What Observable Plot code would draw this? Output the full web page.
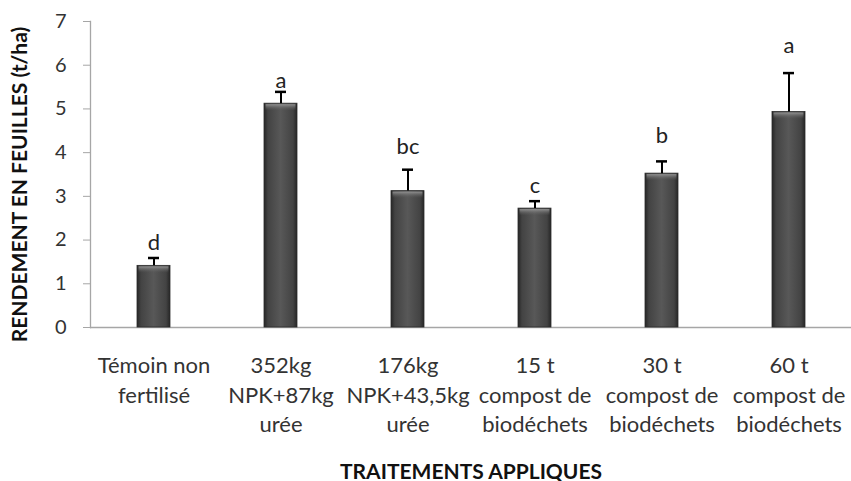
<!DOCTYPE html>
<html>
<head>
<meta charset="utf-8">
<script src="https://cdn.jsdelivr.net/npm/d3@7"></script>
<script src="https://cdn.jsdelivr.net/npm/@observablehq/plot@0.6"></script>
<style>
  html, body { margin: 0; padding: 0; background: #fff; }
  #chart { width: 851px; height: 481px; }
</style>
</head>
<body>
<div id="chart"></div>
<script>
const treatments = [
  "Témoin non\nfertilisé",
  "352kg\nNPK+87kg\nurée",
  "176kg\nNPK+43,5kg\nurée",
  "15 t\ncompost de\nbiodéchets",
  "30 t\ncompost de\nbiodéchets",
  "60 t\ncompost de\nbiodéchets"
];
const yields = [1.41, 5.12, 3.12, 2.72, 3.52, 4.93];
const errors = [0.18, 0.27, 0.49, 0.17, 0.28, 0.89];
const letters = ["d", "a", "bc", "c", "b", "a"];
const letterY = [1.77, 5.49, 3.98, 3.07, 4.23, 6.29];
const yTicks = [0, 1, 2, 3, 4, 5, 6, 7];
const yTitle = "RENDEMENT EN FEUILLES (t/ha)";
const xTitle = "TRAITEMENTS APPLIQUES";

const data = treatments.map((t, i) => ({
  t, v: yields[i], e: yields[i] + errors[i], lab: letters[i], ly: letterY[i]
}));

const plot = Plot.plot({
  width: 851,
  height: 481,
  marginLeft: 90,
  marginRight: 0,
  marginTop: 21,
  marginBottom: 154,
  style: { fontFamily: "Lato, sans-serif", color: "#333", background: "#fff" },
  x: { domain: treatments, range: [89, 854], paddingInner: 0.74, paddingOuter: 0.37 },
  y: { domain: [0, 7] },
  marks: [
    Plot.frame({ anchor: "left", stroke: "#a6a6a6", strokeWidth: 1.3 }),
    Plot.axisY({ ticks: yTicks, tickSize: 7, tickPadding: 17, stroke: "#a6a6a6", fontSize: 20, label: null, tickFormat: d => d }),
    Plot.axisX({ tickSize: 0, tickPadding: 25, fontSize: 22, lineHeight: 1.34, label: null, tickFormat: d => d }),
    Plot.ruleY([0], { stroke: "#a6a6a6", strokeWidth: 1.3 }),
    Plot.barY(data, { x: "t", y: "v", fill: "url(#barGrad)", stroke: "#2b2b2b", strokeWidth: 0.8 }),
    Plot.barY(data, { x: "t", y1: d => d.v - 0.17, y2: "v", fill: "url(#bevelGrad)", insetLeft: 1.5, insetRight: 1.5, insetTop: 1 }),
    Plot.ruleX(data, { x: "t", y1: "v", y2: "e", stroke: "#000", strokeWidth: 2 }),
    Plot.tickY(data, { x: "t", y: "e", stroke: "#000", strokeWidth: 2.5, insetLeft: 11, insetRight: 11 }),
    Plot.text(data, { x: "t", y: "ly", text: "lab", fontSize: 22, lineAnchor: "bottom", fill: "#222" }),
    Plot.text([yTitle], { text: d => d, frameAnchor: "left", textAnchor: "middle", rotate: -90, dx: -70, dy: 10, fontSize: 21, fontWeight: "bold", fill: "#111" }),
    Plot.text([xTitle], { text: d => d, frameAnchor: "bottom", textAnchor: "middle", dy: 151, fontSize: 21, fontWeight: "bold", fill: "#111" })
  ]
});

plot.insertAdjacentHTML("afterbegin", `
<defs>
  <linearGradient id="barGrad" x1="0" x2="1" y1="0" y2="0">
    <stop offset="0%" stop-color="#262626"/>
    <stop offset="12%" stop-color="#434343"/>
    <stop offset="50%" stop-color="#585858"/>
    <stop offset="88%" stop-color="#434343"/>
    <stop offset="100%" stop-color="#262626"/>
  </linearGradient>
  <linearGradient id="bevelGrad" x1="0" x2="0" y1="0" y2="1">
    <stop offset="0%" stop-color="#9a9a9a" stop-opacity="0.9"/>
    <stop offset="100%" stop-color="#5c5c5c" stop-opacity="0"/>
  </linearGradient>
</defs>`);

document.getElementById("chart").appendChild(plot);
</script>
</body>
</html>
